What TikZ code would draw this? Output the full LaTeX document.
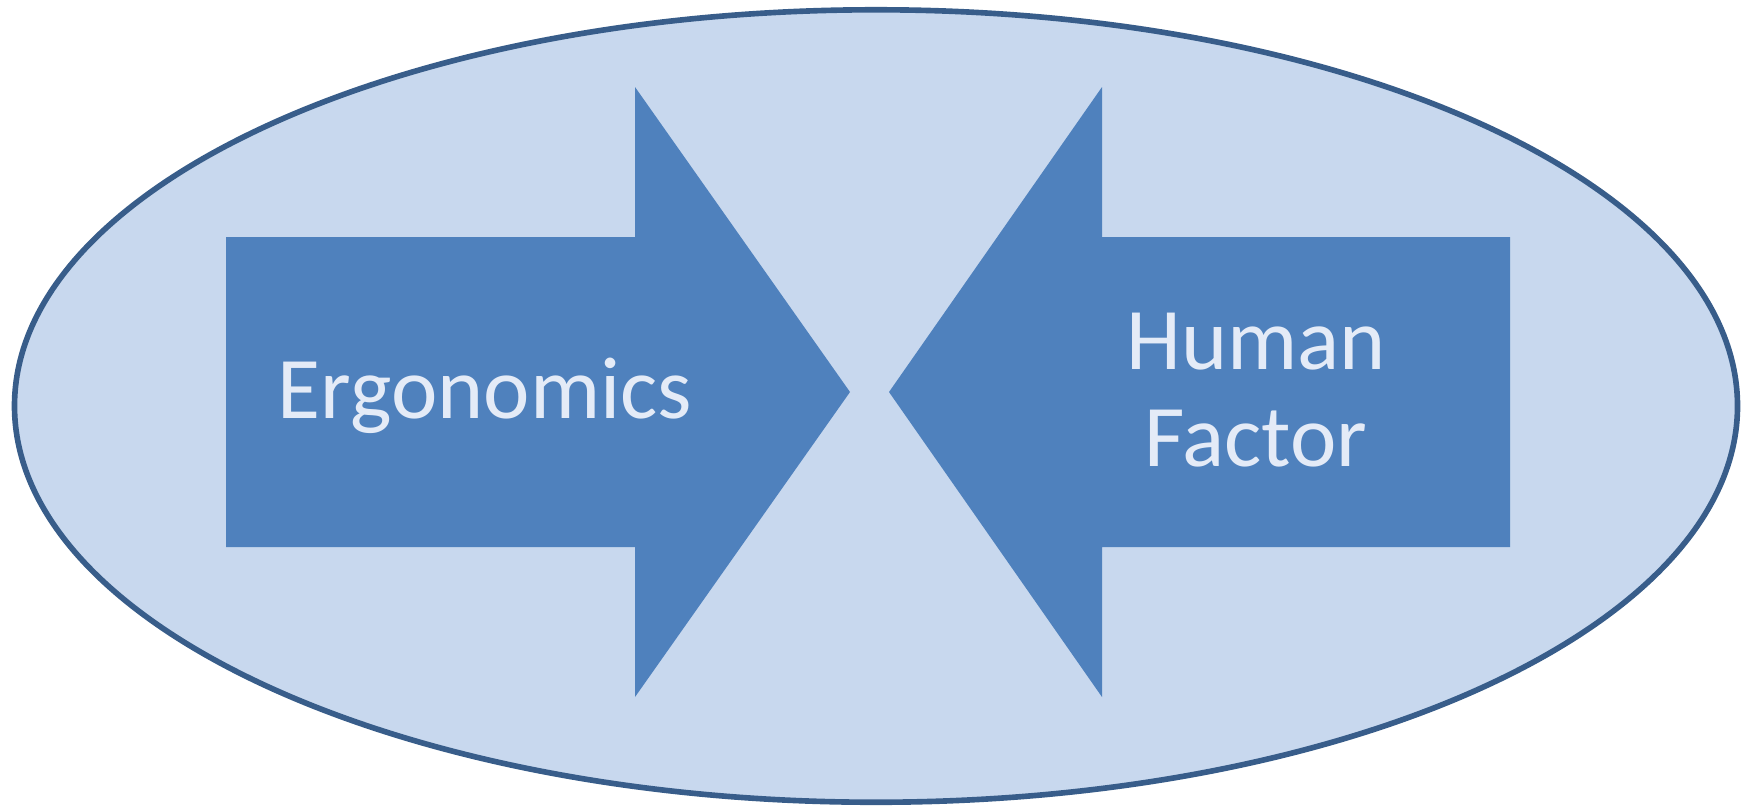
\documentclass[tikz,border=0pt]{standalone}
\usepackage{fontspec}
\setmainfont{Carlito}
\usetikzlibrary{positioning,shapes.geometric}
\definecolor{ringline}{RGB}{56,93,138}
\definecolor{ringfill}{RGB}{200,216,238}
\definecolor{arrowfill}{RGB}{79,129,189}
\definecolor{labeltext}{RGB}{228,235,247}

\begin{document}
\begin{tikzpicture}[x=0.01cm,y=-0.01cm]
	\useasboundingbox (0,0) rectangle (1746,805);
	\node[ellipse,draw=ringline,line width=1.6pt,fill=ringfill,
		minimum width=17.22cm,minimum height=7.92cm,inner sep=0pt] (ring) at (876,406) {};

	\begin{scope}[every path/.style={fill=arrowfill,draw=none}]
		% left arrow
		\path (226,237) -- (635,237) -- (635,87) -- (850,392)
			-- (635,697) -- (635,547) -- (226,547) -- cycle;
		% right arrow
		\path (1510,237) -- (1102,237) -- (1102,87) -- (889,392)
			-- (1102,697) -- (1102,547) -- (1510,547) -- cycle;
	\end{scope}

	\begin{scope}[every node/.style={text=labeltext,font=\fontsize{25}{27.6}\selectfont,align=center}]
		\node (ergo) at (485,396) {Ergonomics};
		\node (human) at (1256,390) {Human\\Factor};
	\end{scope}
\end{tikzpicture}
\end{document}
